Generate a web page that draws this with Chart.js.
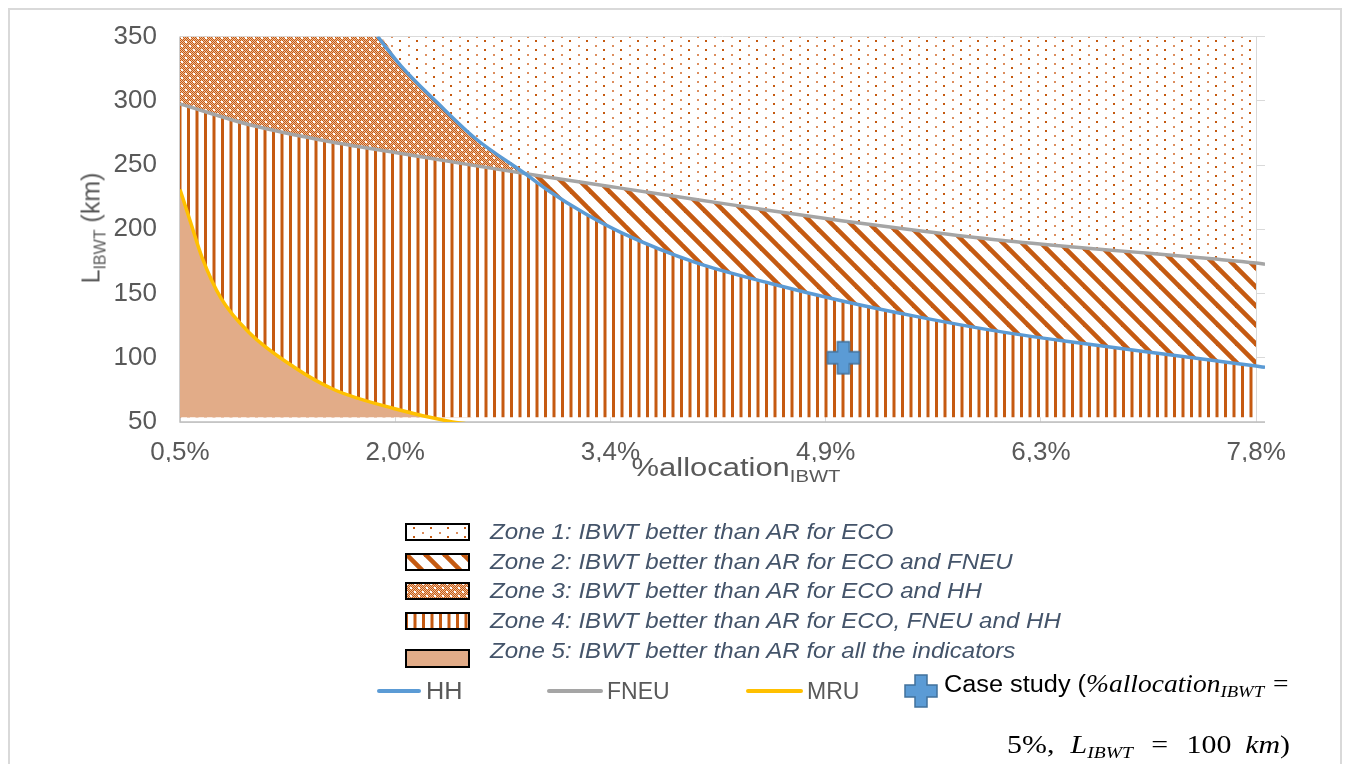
<!DOCTYPE html>
<html>
<head>
<meta charset="utf-8">
<script src="https://cdn.jsdelivr.net/npm/chart.js@4.4.1/dist/chart.umd.min.js"></script>
<style>
html,body{margin:0;padding:0;background:#fff;width:1346px;height:764px;overflow:hidden;}
#frame{position:absolute;left:8px;top:8px;width:1334px;height:820px;border:2px solid #d9d9d9;box-sizing:border-box;}
#c{position:absolute;left:0;top:0;}
.t{position:absolute;font-family:"Liberation Sans",Arial,sans-serif;color:#595959;white-space:nowrap;}
.zt{position:absolute;font-family:"Liberation Sans",Arial,sans-serif;font-style:italic;font-size:22px;line-height:26px;color:#44546A;white-space:nowrap;left:490px;transform:scaleX(1.095);transform-origin:0 50%;}
.sw{position:absolute;left:405px;}
.ln{position:absolute;height:4px;border-radius:2px;}
.m{font-family:"Liberation Serif","DejaVu Serif",serif;}
</style>
</head>
<body>
<div id="frame"></div>
<canvas id="c" width="1346" height="764"></canvas>

<div class="t" style="left:91px;top:228px;font-size:25px;transform:translate(-50%,-50%) rotate(-90deg);">L<span style="font-size:16px;position:relative;top:6px;">IBWT</span> (km)</div>
<div class="t" style="left:736px;top:467px;font-size:26px;transform:translate(-50%,-50%) scaleX(1.19);">%allocation<span style="font-size:17px;position:relative;top:6px;">IBWT</span></div>

<canvas class="sw" id="sw1" width="65" height="18" style="top:523px"></canvas>
<canvas class="sw" id="sw2" width="65" height="18" style="top:553px"></canvas>
<canvas class="sw" id="sw3" width="65" height="18" style="top:582px"></canvas>
<canvas class="sw" id="sw4" width="65" height="18" style="top:612px"></canvas>
<canvas class="sw" id="sw5" width="65" height="19" style="top:649px"></canvas>
<div class="zt" style="top:519px">Zone 1: IBWT better than AR for ECO</div>
<div class="zt" style="top:549px">Zone 2: IBWT better than AR for ECO and FNEU</div>
<div class="zt" style="top:578px">Zone 3: IBWT better than AR for ECO and HH</div>
<div class="zt" style="top:608px">Zone 4: IBWT better than AR for ECO, FNEU and HH</div>
<div class="zt" style="top:638px">Zone 5: IBWT better than AR for all the indicators</div>

<div class="ln" style="left:377px;top:689px;width:44px;background:#5B9BD5"></div>
<div class="t" style="left:426px;top:678px;font-size:23px;line-height:26px;transform:scaleX(1.1);transform-origin:0 50%;">HH</div>
<div class="ln" style="left:547px;top:689px;width:56px;background:#A5A5A5"></div>
<div class="t" style="left:607px;top:678px;font-size:23px;line-height:26px;">FNEU</div>
<div class="ln" style="left:746px;top:689px;width:57px;background:#FFC000"></div>
<div class="t" style="left:807px;top:678px;font-size:23px;line-height:26px;">MRU</div>
<canvas id="lgcross" width="36" height="36" style="position:absolute;left:903px;top:673px;"></canvas>
<div class="t" style="left:944px;top:670px;font-size:23px;line-height:28px;color:#000;transform:scaleX(1.1);transform-origin:0 50%;">Case study (<span class="m" style="font-style:italic;font-size:25px;">%allocation</span><span class="m" style="font-style:italic;font-size:17px;position:relative;top:5px;">IBWT</span><span class="m" style="font-size:25px;margin-left:8px;">=</span></div>
<div class="t m" style="right:56px;top:731px;font-size:26px;line-height:28px;color:#000;transform:scaleX(1.15);transform-origin:100% 50%;">5%,<i style="margin-left:14px;">L</i><i style="font-size:17px;position:relative;top:5px;">IBWT</i><span style="margin:0 16px;">=</span>100<i style="margin-left:12px;">km</i>)</div>

<script>
// ---------- data ----------
const xTickValues = [0.5, 1.96, 3.42, 4.88, 6.34, 7.8];
const xTickLabels = ['0,5%', '2,0%', '3,4%', '4,9%', '6,3%', '7,8%'];

// HH curve (blue)
const hhX = [1.84, 2.0, 2.25, 2.5, 2.85, 3.0, 3.25, 3.5, 4.0, 4.5, 5.0, 5.5, 6.0, 6.5, 7.0, 7.5, 7.8, 7.86];
const hhY = [350, 327, 298, 271, 242.5, 230, 212, 197, 174, 158, 144, 132, 121.5, 113, 105.5, 98, 93.5, 92.5];
// FNEU curve (grey)
const fneuX = [0.5, 1.0, 1.5, 2.0, 2.5, 3.0, 3.5, 4.0, 4.5, 5.0, 5.5, 6.0, 6.5, 7.0, 7.5, 7.8, 7.86];
const fneuY = [297.5, 280.5, 268.5, 259, 249.5, 240.5, 231.8, 223.2, 214.6, 206.5, 199, 192.3, 186.8, 182, 177, 173.7, 172.8];
// MRU curve (yellow)
const mruX = [0.5, 0.57, 0.65, 0.78, 0.97, 1.27, 1.54, 1.95, 2.33, 2.48];
const mruY = [231, 206, 178, 146, 119.5, 93, 75.5, 60.5, 50.5, 48];
// zone limits
const zoneTop = 350;
const zoneBottom = 53.5;
const zoneXStart = 0.5;
const zoneXEnd = 7.8;
// case study point
const caseX = [5.0];
const caseY = [100];

// ---------- helpers ----------
const pts = (xs, ys) => xs.map((x, i) => ({x: x, y: ys[i]}));
const upTo = (arr, xmax) => arr.filter(p => p.x <= xmax + 1e-9);
const ORANGE = '#C55A11';

function tile(w, h, draw) {
  const c = document.createElement('canvas');
  c.width = w; c.height = h;
  const g = c.getContext('2d');
  g.fillStyle = '#fff'; g.fillRect(0, 0, w, h);
  draw(g);
  return c;
}
const tiles = {
  p1: tile(17, 9, g => { g.fillStyle = '#dc8e5e'; g.fillRect(0, 0, 2, 2); g.fillStyle = ORANGE; g.fillRect(8, 4, 2, 2); }),
  p2: tile(19, 19, g => {
    g.strokeStyle = ORANGE; g.lineWidth = 4.6;
    for (let k = -1; k <= 1; k++) { g.beginPath(); g.moveTo(k * 19 - 5, -5); g.lineTo(k * 19 + 24, 24); g.stroke(); }
  }),
  p3: tile(8, 8, g => {
    for (let y = 0; y < 8; y++) for (let x = 0; x < 8; x++) {
      g.fillStyle = ((x + y) % 2 === 0) ? ORANGE : '#efbd9b';
      g.fillRect(x, y, 1, 1);
    }
    g.fillStyle = '#fff'; g.fillRect(1, 1, 2, 2); g.fillRect(5, 5, 2, 2);
  }),
  p4: tile(17, 10, g => { g.fillStyle = ORANGE; g.fillRect(0, 0, 3, 10); g.fillRect(8.5, 0, 3, 10); })
};
const ctx = document.getElementById('c').getContext('2d');
const pat = {};
for (const k in tiles) pat[k] = ctx.createPattern(tiles[k], 'repeat');
const ZONE5 = '#E2AC88';
const NONE = 'rgba(0,0,0,0)';

function crossCanvas(cv) {
  const g = cv.getContext('2d');
  const c = 18, L = 16, T = 6;
  g.beginPath();
  g.moveTo(c - T, c - L); g.lineTo(c + T, c - L); g.lineTo(c + T, c - T); g.lineTo(c + L, c - T);
  g.lineTo(c + L, c + T); g.lineTo(c + T, c + T); g.lineTo(c + T, c + L); g.lineTo(c - T, c + L);
  g.lineTo(c - T, c + T); g.lineTo(c - L, c + T); g.lineTo(c - L, c - T); g.lineTo(c - T, c - T);
  g.closePath();
  g.fillStyle = '#5B9BD5'; g.fill();
  g.strokeStyle = '#41719C'; g.lineWidth = 1.5; g.stroke();
  return cv;
}
const crossImg = document.createElement('canvas'); crossImg.width = 36; crossImg.height = 36; crossCanvas(crossImg);
crossCanvas(document.getElementById('lgcross'));

// legend swatches
function swatch(id, fill) {
  const cv = document.getElementById(id), g = cv.getContext('2d');
  g.fillStyle = '#fff'; g.fillRect(0, 0, cv.width, cv.height);
  g.fillStyle = typeof fill === 'string' ? fill : g.createPattern(fill, 'repeat');
  g.fillRect(2, 2, cv.width - 4, cv.height - 4);
  g.strokeStyle = '#000'; g.lineWidth = 2; g.strokeRect(1, 1, cv.width - 2, cv.height - 2);
}
swatch('sw1', tiles.p1); swatch('sw2', tiles.p2); swatch('sw3', tiles.p3); swatch('sw4', tiles.p4); swatch('sw5', ZONE5);

// ---------- datasets ----------
const hhPts = pts(hhX, hhY);
const fneuPts = pts(fneuX, fneuY);
const mruPts = pts(mruX, mruY);
const hhCapped = [{x: zoneXStart, y: zoneTop}].concat(upTo(hhPts, zoneXEnd));
const topPts = [{x: zoneXStart, y: zoneTop}, {x: zoneXEnd, y: zoneTop}];

const lineBase = {pointRadius: 0, fill: false, cubicInterpolationMode: 'monotone', borderWidth: 3.5};
const areaBase = {pointRadius: 0, borderWidth: 0, borderColor: NONE, cubicInterpolationMode: 'monotone'};

const axisLines = {
  id: 'axisLines',
  beforeDatasetsDraw(chart) {
    const a = chart.chartArea, g = chart.ctx;
    g.save(); g.strokeStyle = '#bfbfbf'; g.lineWidth = 1.5;
    g.beginPath(); g.moveTo(a.left, a.top); g.lineTo(a.left, a.bottom); g.lineTo(a.right, a.bottom); g.stroke();
    g.restore();
  }
};

const FONT = '"Liberation Sans", Arial, sans-serif';
new Chart(ctx, {
  type: 'line',
  data: {
    datasets: [
      Object.assign({label: 'HH', data: hhPts, borderColor: '#5B9BD5'}, lineBase),
      Object.assign({label: 'FNEU', data: fneuPts, borderColor: '#A5A5A5'}, lineBase),
      Object.assign({label: 'MRU', data: mruPts, borderColor: '#FFC000'}, lineBase),
      {label: 'Case study', data: pts(caseX, caseY), showLine: false, pointStyle: crossImg, pointRadius: 17, pointHoverRadius: 17},
      Object.assign({label: 'Zone 5', data: mruPts, fill: {target: {value: zoneBottom}, above: ZONE5, below: NONE}}, areaBase),
      Object.assign({label: 'Zone 2/3', data: hhCapped, fill: {target: 6, above: pat.p3, below: pat.p2}}, areaBase),
      Object.assign({label: 'Zone 4', data: upTo(fneuPts, zoneXEnd), fill: {target: {value: zoneBottom}, above: pat.p4, below: NONE}}, areaBase),
      Object.assign({label: 'Zone 1', data: topPts, fill: {target: 6, above: pat.p1, below: NONE}, cubicInterpolationMode: 'default', tension: 0}, {pointRadius: 0, borderWidth: 0, borderColor: NONE})
    ]
  },
  options: {
    responsive: false,
    animation: false,
    devicePixelRatio: 1,
    layout: {padding: {left: 110, right: 81, top: 36.5, bottom: 302}},
    plugins: {legend: {display: false}, tooltip: {enabled: false}},
    events: [],
    scales: {
      x: {
        type: 'linear', min: 0.5, max: 7.86,
        afterBuildTicks: s => { s.ticks = xTickValues.map(v => ({value: v})); },
        afterFit: s => { s.height = 40; s.paddingLeft = 0; s.paddingRight = 0; },
        ticks: {
          autoSkip: false, maxRotation: 0, padding: 15,
          color: '#595959', font: {family: FONT, size: 26},
          callback: (v, i) => xTickLabels[i]
        },
        grid: {color: '#d9d9d9', lineWidth: 1, drawTicks: false},
        border: {display: false}
      },
      y: {
        min: 50, max: 350,
        afterFit: s => { s.width = 70; s.paddingTop = 0; s.paddingBottom = 0; },
        ticks: {stepSize: 50, padding: 23, color: '#595959', font: {family: FONT, size: 26}},
        grid: {color: '#d9d9d9', lineWidth: 1, drawTicks: false},
        border: {display: false}
      }
    }
  },
  plugins: [axisLines]
});
</script>
</body>
</html>
